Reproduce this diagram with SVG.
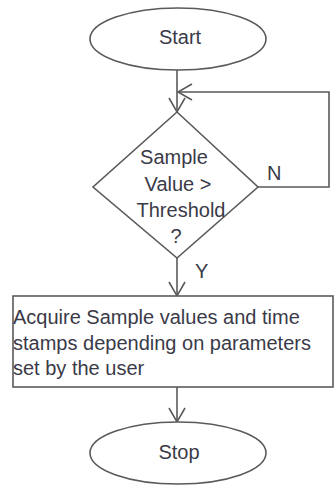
<svg xmlns="http://www.w3.org/2000/svg" width="334" height="486" viewBox="0 0 334 486">
<style>
.shape{fill:#ffffff;stroke:#5a5a5a;stroke-width:1.6}
.edge{fill:none;stroke:#5a5a5a;stroke-width:1.6}
.t{font-family:"Liberation Sans",Arial,sans-serif;font-size:20px;fill:#3a3a48}
.c{text-anchor:middle}
</style>
<defs>
<marker id="arr" viewBox="-16 -10 18 20" refX="0" refY="0" markerWidth="18" markerHeight="20" markerUnits="userSpaceOnUse" orient="auto">
<path d="M-14,-8 L0,0 L-14,8" fill="none" stroke="#5a5a5a" stroke-width="1.6"/>
</marker>
</defs>
<rect width="334" height="486" fill="#ffffff"/>
<g id="connectors">
<path class="edge" d="M177,70 L177,112" marker-end="url(#arr)"/>
<path class="edge" d="M258,187 L329,187 L329,92 L178,92" marker-end="url(#arr)"/>
<path class="edge" d="M177,258 L177,296" marker-end="url(#arr)"/>
<path class="edge" d="M177,387 L177,422" marker-end="url(#arr)"/>
<text class="t" x="267" y="180">N</text>
<text class="t" x="195" y="278">Y</text>
</g>
<g id="start">
<ellipse class="shape" cx="178" cy="39" rx="88" ry="31"/>
<text class="t c" x="180" y="44">Start</text>
</g>
<g id="decision">
<polygon class="shape" points="177,112 258,187 177,258 93,187"/>
<text class="t c" x="174" y="164">Sample</text>
<text class="t c" x="178" y="191">Value &gt;</text>
<text class="t c" x="181" y="217">Threshold</text>
<text class="t c" x="176" y="243">?</text>
</g>
<g id="acquire">
<rect class="shape" x="13" y="296" width="320" height="91" stroke-width="2"/>
<text class="t" x="13" y="324">Acquire Sample values and time</text>
<text class="t" x="13" y="350">stamps depending on parameters</text>
<text class="t" x="13" y="375">set by the user</text>
</g>
<g id="stop">
<ellipse class="shape" cx="178" cy="453" rx="88" ry="31"/>
<text class="t c" x="179" y="459">Stop</text>
</g>
</svg>
